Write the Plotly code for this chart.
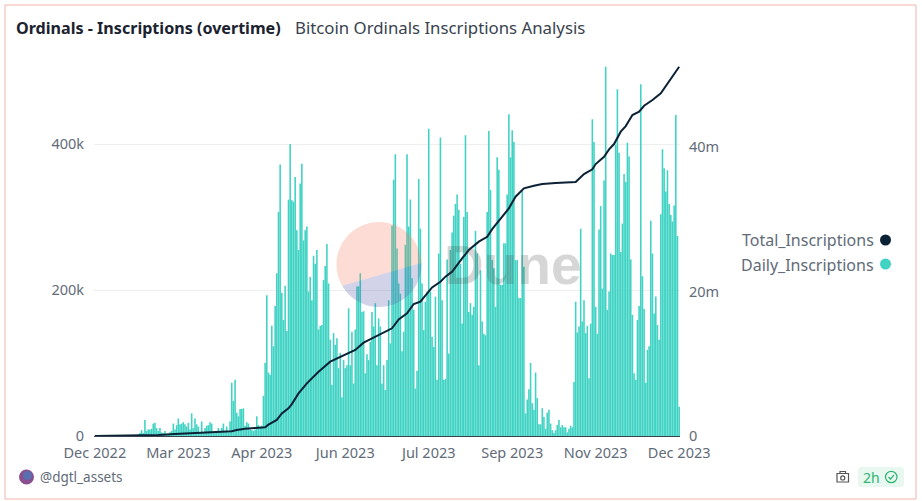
import math
import pandas as pd
import plotly.graph_objects as go

# values, daily in thousands, total in millions
daily_k = [0.0] * 26 + [
    2, 4, 8, 4, 22, 7, 9, 9, 10, 17, 18, 11, 7, 11, 5, 4, 7, 3, 2, 5, 7, 17, 9, 15, 24, 16, 17, 19, 16, 13,
    18, 9, 31, 11, 24, 16, 13, 5, 20, 4, 11, 14, 15, 19, 17, 4, 4, 5, 11, 7, 11, 17, 7, 13, 5, 20, 73, 48, 77, 32,
    27, 37, 37, 38, 14, 19, 17, 9, 8, 7, 9, 27, 15, 11, 14, 55, 100, 193, 87, 84, 151, 123, 178, 223, 307, 372,
    196, 159, 206, 144, 324,
    400, 323, 321, 355, 282, 255, 346, 373, 268, 282, 287, 198, 218, 186, 247, 236, 255, 146, 151, 152,
    214, 233, 263, 209, 132, 70, 141, 125, 134, 93, 114, 53, 104, 93, 97, 175, 97, 143, 72, 146,
    205, 205, 223, 170, 171, 86, 112, 104, 129, 170, 150, 182, 97, 161, 150, 72, 97, 63, 104, 186,
    127, 288, 351, 386, 257, 209, 195, 116, 143, 262, 386, 287, 324, 216, 173, 65, 89, 352, 284, 209,
    145, 184, 198, 421, 198, 136, 122, 191, 77, 250, 409, 186, 77, 78, 242, 113, 255, 279, 302, 318,
    331, 310, 236, 154, 300, 412, 307, 170, 182, 166, 177, 281, 250, 97, 227, 157, 140, 138, 307, 418,
    337, 241, 230, 177, 382, 365, 207, 207, 264, 264, 331, 441, 382, 419, 403, 241, 241, 189, 189, 337,
    232, 31, 50, 64, 100, 45, 36, 87, 52, 16, 16, 38, 26, 10, 32, 36, 17, 8, 4, 8,
    15, 22, 12, 15, 12, 12, 5, 10, 14, 12, 74, 184, 142, 150, 284, 157, 186, 141, 151, 79,
    154, 434, 403, 177, 140, 283, 315, 202, 350, 506, 173, 198, 250, 248, 248, 399, 475, 388, 252, 291,
    359, 348, 402, 383, 242, 166, 86, 77, 159, 178, 482, 219, 174, 73, 118, 123, 295, 250, 168, 191,
    152, 132, 304, 393, 367, 335, 364, 318, 303, 294, 316, 440, 274, 40,
]
total_day = [
    0, 26, 38, 48, 58, 68, 78, 82, 85, 90, 96, 102, 104, 109, 112, 116,
    118, 122, 127, 134, 141, 148, 156, 161, 168, 178, 182, 187, 191, 195, 202, 207, 210, 214, 220, 224, 230, 235, 238,
    244, 248, 252, 257, 263, 268, 276, 288, 293, 298, 300, 305, 308, 311, 315, 318, 322, 326, 329, 334, 339, 343, 347, 350,
]
total_m = [
    0.0, 0.05, 0.14, 0.27, 0.41, 0.5, 0.61, 0.65, 0.83, 1.01, 1.11, 1.21, 1.57, 2.22, 3.13, 3.84,
    4.42, 5.9, 7.28, 8.9, 10.28, 11.07, 11.9, 12.91, 13.75, 14.9, 16.14, 16.97, 18.26, 18.58, 20.56, 21.35, 22.05,
    22.74, 24.58, 25.73, 26.89, 27.57, 28.63,
    30.34, 31.5, 33.11, 34.27, 34.63, 34.87, 35.01, 35.14, 36.25, 36.9, 37.63, 38.64, 39.66, 40.4, 42.11, 42.88,
    44.41, 44.87, 45.7, 46.49, 47.41, 48.79, 50.18, 51.1,
]
tick_days = [0, 50, 100, 150, 200, 250, 300, 350]
tick_labels = ["Dec 2022", "Mar 2023", "Apr 2023", "Jun 2023", "Jul 2023", "Sep 2023", "Nov 2023", "Dec 2023"]
left_ticks = [0, 200, 400]
left_labels = ["0", "200k", "400k"]
right_ticks = [0, 20, 40]
right_labels = ["0", "20m", "40m"]

TEAL = "#40d3c4"
NAVY = "#0b2136"
GREY = "#626b78"
FONT = "Noto Sans"

W, H = 922, 501
L, R, T, B = 94, 680, 66, 436


def px(x):
    return (x - L) / (R - L)


def py(y):
    return (B - y) / (B - T)


def poly(points):
    return "M " + " L ".join(f"{px(x)},{py(y)}" for x, y in points) + " Z"


start = pd.Timestamp("2022-12-14")
days = pd.to_timedelta(range(len(daily_k)), unit="D") + start
total_dates = [start + pd.Timedelta(days=d) for d in total_day]
tick_dates = [start + pd.Timedelta(days=d) for d in tick_days]

fig = go.Figure()
fig.add_bar(x=days, y=daily_k, name="Daily_Inscriptions", marker_color=TEAL, marker_line_width=0, showlegend=False)
fig.add_scatter(x=total_dates, y=total_m, name="Total_Inscriptions", yaxis="y2", mode="lines",
                line=dict(color=NAVY, width=2), showlegend=False)

# dune watermark: salmon disc with a blue lower slice
cx, cy, rad = 379, 264.5, 42.5
a0 = math.atan2(263 - cy, 421.5 - cx)
a1 = math.atan2(286 - cy, 342 - cx)
lower = [(cx + rad * math.cos(a0 + (a1 - a0) * i / 40), cy + rad * math.sin(a0 + (a1 - a0) * i / 40)) for i in range(41)]
upper = [(cx + rad * math.cos(a1 + (2 * math.pi + a0 - a1) * i / 60), cy + rad * math.sin(a1 + (2 * math.pi + a0 - a1) * i / 60)) for i in range(61)]
shapes = [
    dict(type="path", path=poly(upper), xref="paper", yref="paper", fillcolor="rgba(243,115,83,0.25)", line_width=0, layer="above"),
    dict(type="path", path=poly(lower), xref="paper", yref="paper", fillcolor="rgba(94,98,173,0.28)", line_width=0, layer="above"),
    # card border
    dict(type="rect", xref="paper", yref="paper", x0=px(5), x1=px(916), y0=py(499), y1=py(5),
         line=dict(color="#f4b3a8", width=1), layer="below"),
    # legend dots
    dict(type="circle", xref="paper", yref="paper", x0=px(880), x1=px(891), y0=py(245.5), y1=py(234.5), fillcolor=NAVY, line_width=0),
    dict(type="circle", xref="paper", yref="paper", x0=px(880), x1=px(891), y0=py(269.5), y1=py(258.5), fillcolor=TEAL, line_width=0),
    # avatar
    dict(type="circle", xref="paper", yref="paper", x0=px(19), x1=px(34), y0=py(484.5), y1=py(469.5), fillcolor="#8a4f8f", line_width=0),
    dict(type="circle", xref="paper", yref="paper", x0=px(23), x1=px(32), y0=py(480), y1=py(471), fillcolor="#5a6fb0", line_width=0),
    # camera icon
    dict(type="rect", xref="paper", yref="paper", x0=px(837), x1=px(848.5), y0=py(482), y1=py(473.5), line=dict(color="#555", width=1.2)),
    dict(type="rect", xref="paper", yref="paper", x0=px(840), x1=px(845.5), y0=py(473.5), y1=py(471.5), line=dict(color="#555", width=1.2)),
    dict(type="circle", xref="paper", yref="paper", x0=px(840.7), x1=px(844.8), y0=py(480), y1=py(475.8), line=dict(color="#555", width=1.2)),
    # freshness pill
    dict(type="path", xref="paper", yref="paper", fillcolor="#e8f8f0", line_width=0, layer="below",
         path=poly([(860, 467), (902, 467), (904, 469), (904, 485), (902, 487), (860, 487), (858, 485), (858, 469)])),
    dict(type="circle", xref="paper", yref="paper", x0=px(885.5), x1=px(897), y0=py(482.7), y1=py(471.3), line=dict(color="#2fb573", width=1.2)),
    dict(type="path", xref="paper", yref="paper", line=dict(color="#2fb573", width=1.2),
         path=f"M {px(888.5)},{py(477)} L {px(890.5)},{py(479.2)} L {px(894)},{py(474.8)}"),
]

annotations = [
    dict(text="<b>Ordinals - Inscriptions (overtime)</b>", x=px(15), y=py(28), font=dict(size=16.1, color="#1b2230"), xanchor="left"),
    dict(text="Bitcoin Ordinals Inscriptions Analysis", x=px(294), y=py(28), font=dict(size=16.8, color="#39424f"), xanchor="left"),
    dict(text="<b>Dune</b>", x=px(513), y=py(265), font=dict(size=55, color="rgba(70,70,70,0.22)", family="Liberation Sans"), xanchor="center"),
    dict(text="Total_Inscriptions", x=px(875), y=py(240.5), font=dict(size=16, color=GREY), xanchor="right"),
    dict(text="Daily_Inscriptions", x=px(875), y=py(264.5), font=dict(size=16, color=GREY), xanchor="right"),
    dict(text="@dgtl_assets", x=px(39), y=py(477), font=dict(size=13.5, color=GREY), xanchor="left"),
    dict(text="2h", x=px(871), y=py(477), font=dict(size=14, color="#2fb573"), xanchor="center"),
]
for a in annotations:
    a.update(xref="paper", yref="paper", yanchor="middle", showarrow=False, borderpad=0)

fig.update_layout(
    width=W, height=H,
    margin=dict(l=L, r=W - R, t=T, b=H - B, pad=0),
    paper_bgcolor="white", plot_bgcolor="white",
    font=dict(family=FONT, color=GREY, size=15),
    bargap=0.05,
    showlegend=False,
    shapes=shapes,
    annotations=annotations,
    xaxis=dict(
        range=[start - pd.Timedelta(hours=12), start + pd.Timedelta(days=len(daily_k) - 0.5)],
        tickmode="array", tickvals=tick_dates, ticktext=tick_labels, showgrid=False, zeroline=False,
        showline=True, linecolor="#3a4250", linewidth=1, ticks="outside", ticklen=4, tickcolor="white",
        tickfont=dict(size=14.5, color=GREY),
    ),
    yaxis=dict(
        range=[0, 507], tickmode="array", tickvals=left_ticks, ticktext=left_labels, gridcolor="#eeeeee", gridwidth=1,
        zeroline=False, showline=False, ticks="outside", ticklen=6, tickcolor="white", tickfont=dict(size=14.5, color=GREY),
    ),
    yaxis2=dict(
        range=[0, 51.2], overlaying="y", side="right", tickmode="array", tickvals=right_ticks, ticktext=right_labels,
        showgrid=False, zeroline=False, showline=False, ticks="outside", ticklen=5, tickcolor="white",
        tickfont=dict(size=14.5, color=GREY),
    ),
)

# staticPlot keeps the thin bars at fractional widths, like the reference
fig.write_html("out.html", config=dict(displayModeBar=False, staticPlot=True),
               post_script="document.body.style.margin='0';")
